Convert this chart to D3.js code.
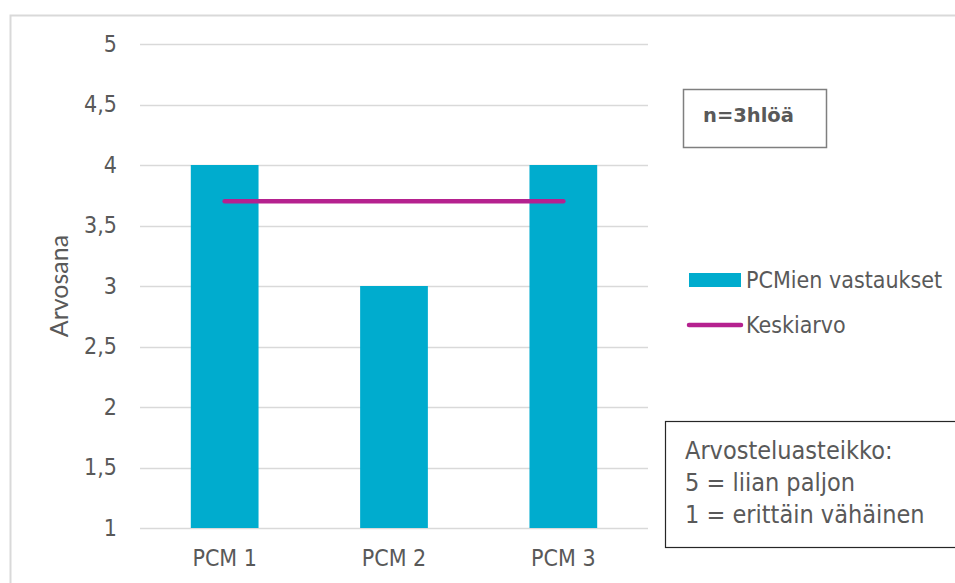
<!DOCTYPE html>
<html>
<head>
<meta charset="utf-8">
<script src="https://cdn.jsdelivr.net/npm/d3@7"></script>
<style>
  html, body { margin: 0; padding: 0; background: #fff; }
  svg { display: block; }
</style>
</head>
<body>
<svg id="chart" width="955" height="583"></svg>
<script>
// Chart data
const categories = ["PCM 1", "PCM 2", "PCM 3"];
const responses = [4, 3, 4];
const meanValue = [3.7, 3.7, 3.7];
const yTicks = [1, 1.5, 2, 2.5, 3, 3.5, 4, 4.5, 5];
const legendLabels = ["PCMien vastaukset", "Keskiarvo"];
const sampleNote = "n=3hlöä";
const scaleNote = ["Arvosteluasteikko:", "5 = liian paljon", "1 = erittäin vähäinen"];

const barColor = "#00acce";
const lineColor = "#b5218f";
const textColor = "#595959";
const gridColor = "#d9d9d9";
const tickFont = "'DejaVu Sans Condensed', 'DejaVu Sans', Tahoma, sans-serif";

const svg = d3.select("#chart");

// Chart-area frame
svg.append("path")
  .attr("d", "M10.5,600 L10.5,15.5 L960,15.5")
  .attr("fill", "none")
  .attr("stroke", gridColor)
  .attr("stroke-width", 2);

const plot = { left: 140, right: 648, top: 44, bottom: 528 };

const x = d3.scaleBand()
  .domain(categories)
  .range([plot.left, plot.right])
  .paddingInner(0.6)
  .paddingOuter(0.3);

const y = d3.scaleLinear()
  .domain([1, 5])
  .range([plot.bottom, plot.top]);

// Gridlines
svg.append("g")
  .selectAll("line")
  .data(yTicks)
  .join("line")
  .attr("x1", plot.left)
  .attr("x2", plot.right)
  .attr("y1", d => Math.round(y(d)) + 0.5)
  .attr("y2", d => Math.round(y(d)) + 0.5)
  .attr("stroke", gridColor)
  .attr("stroke-width", 1.5);

// Y axis labels
const yAxis = d3.axisLeft(y)
  .tickValues(yTicks)
  .tickFormat(d => String(d).replace(".", ","))
  .tickSize(0)
  .tickPadding(0);

svg.append("g")
  .attr("transform", `translate(${plot.left - 23},0)`)
  .call(yAxis)
  .call(g => g.select(".domain").remove())
  .call(g => g.selectAll("text")
    .attr("fill", textColor)
    .style("font-family", tickFont)
    .style("font-size", "23px"));

// Y axis title
svg.append("text")
  .attr("transform", `translate(68,${(plot.top + plot.bottom) / 2}) rotate(-90)`)
  .attr("text-anchor", "middle")
  .attr("fill", textColor)
  .style("font-family", "Lato, 'Open Sans', sans-serif")
  .style("font-size", "25px")
  .text("Arvosana");

// Bars
svg.append("g")
  .selectAll("rect")
  .data(responses)
  .join("rect")
  .attr("x", (d, i) => x(categories[i]))
  .attr("y", d => y(d))
  .attr("width", x.bandwidth())
  .attr("height", d => y(1) - y(d))
  .attr("fill", barColor);

// X axis labels
const xAxis = d3.axisBottom(x).tickSize(0).tickPadding(0);
svg.append("g")
  .attr("transform", `translate(0,${plot.bottom + 30})`)
  .call(xAxis)
  .call(g => g.select(".domain").remove())
  .call(g => g.selectAll("text")
    .attr("fill", textColor)
    .attr("dy", "0.35em")
    .style("font-family", tickFont)
    .style("font-size", "23px"));

// Mean line
const line = d3.line()
  .x((d, i) => x(categories[i]) + x.bandwidth() / 2)
  .y(d => y(d));

svg.append("path")
  .datum(meanValue)
  .attr("d", line)
  .attr("fill", "none")
  .attr("stroke", lineColor)
  .attr("stroke-width", 4.5)
  .attr("stroke-linecap", "round");

// Sample size box
svg.append("rect")
  .attr("x", 683.5).attr("y", 89.5)
  .attr("width", 143).attr("height", 58)
  .attr("fill", "#fff")
  .attr("stroke", "#7f7f7f")
  .attr("stroke-width", 1.5);
svg.append("text")
  .attr("x", 703).attr("y", 115)
  .attr("dy", "0.35em")
  .attr("fill", textColor)
  .style("font-family", "'DejaVu Sans', Tahoma, sans-serif")
  .style("font-size", "19.5px")
  .style("font-weight", "bold")
  .text(sampleNote);

// Legend
const legend = svg.append("g");
legend.append("rect")
  .attr("x", 689).attr("y", 273)
  .attr("width", 52).attr("height", 14)
  .attr("fill", barColor);
legend.append("line")
  .attr("x1", 689).attr("x2", 741)
  .attr("y1", 325).attr("y2", 325)
  .attr("stroke", lineColor)
  .attr("stroke-width", 4.5)
  .attr("stroke-linecap", "round");
legend.selectAll("text")
  .data(legendLabels)
  .join("text")
  .attr("x", 746)
  .attr("y", (d, i) => 280 + i * 45)
  .attr("dy", "0.35em")
  .attr("fill", textColor)
  .style("font-family", tickFont)
  .style("font-size", "23px")
  .text(d => d);

// Rating scale box
svg.append("rect")
  .attr("x", 665.5).attr("y", 421.5)
  .attr("width", 300).attr("height", 126)
  .attr("fill", "#fff")
  .attr("stroke", "#262626")
  .attr("stroke-width", 1.2);
svg.append("g")
  .selectAll("text")
  .data(scaleNote)
  .join("text")
  .attr("x", 685)
  .attr("y", (d, i) => 450 + i * 32)
  .attr("dy", "0.35em")
  .attr("fill", textColor)
  .style("font-family", tickFont)
  .style("font-size", "25px")
  .text(d => d);
</script>
</body>
</html>
